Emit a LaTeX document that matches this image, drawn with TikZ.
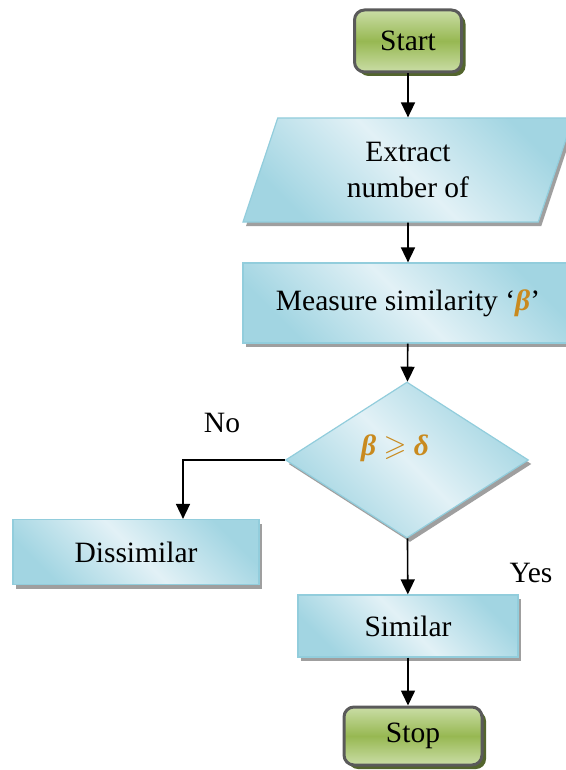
\documentclass[tikz,border=0pt]{standalone}
\usepackage{fontspec}
\setmainfont{Liberation Serif}
\usepackage{amssymb}
\usetikzlibrary{arrows.meta,shapes.geometric,shadows}
\definecolor{flowblue}{HTML}{92CDDC}
\definecolor{flowbluedark}{HTML}{A2D5E2}
\definecolor{flowbluelight}{HTML}{E2F1F6}
\definecolor{flowgreen}{HTML}{97B852}
\definecolor{flowgreenlight}{HTML}{CADDA6}
\definecolor{flowedge}{HTML}{5A5A5A}
\definecolor{betacol}{HTML}{C98A1E}
\newcommand{\greekbf}[1]{{\color{betacol}\bfseries\itshape #1}}

\begin{document}
\begin{tikzpicture}[x=1pt, y=-1pt, >={Triangle[width=14pt,length=15pt]}, line width=1.6pt,
    every node/.style={font=\fontsize{29.5}{36}\selectfont},
    terminal/.style={draw=flowedge, line width=3pt, rounded corners=10pt, inner sep=0pt,
        top color=flowgreenlight, bottom color=flowgreenlight, middle color=flowgreen,
        drop shadow={shadow xshift=4pt, shadow yshift=-4pt, fill=flowgreen!55!black, opacity=1}},
    process/.style={draw=flowblue, line width=1.2pt, inner sep=0pt,
        top color=flowbluedark, bottom color=flowbluedark, middle color=flowbluelight, shading angle=-45,
        drop shadow={shadow xshift=3pt, shadow yshift=-4pt, fill=gray!75, opacity=1}}]
    \useasboundingbox (0,0) rectangle (565,770);

    \node[terminal, minimum width=107pt, minimum height=62pt] (start) at (408,41) {Start};
    \node[process, trapezium, trapezium left angle=58, trapezium right angle=122, trapezium stretches body,
        minimum width=330pt, minimum height=104pt, align=center] (extract) at (408,170) {Extract\\number of};
    \node[process, minimum width=330pt, minimum height=80pt] (measure) at (408,303)
        {Measure similarity ‘\greekbf{β}’};
    \node[process, diamond, minimum width=243pt, minimum height=156pt, text depth=30pt] (decision) at (407,460)
        {\greekbf{β} {\color{betacol}$\geqslant$} \greekbf{δ}\hspace*{24pt}};
    \node[process, minimum width=246pt, minimum height=65pt] (dissim) at (136,552) {Dissimilar};
    \node[process, minimum width=220pt, minimum height=62pt] (similar) at (408,626) {Similar};
    \node[terminal, minimum width=138pt, minimum height=58pt] (stop) at (413,736) {Stop};

    \node (no) at (222,423) {No};
    \node (yes) at (531,573) {Yes};

    \draw[->] (start) -- (extract);
    \draw[->] (extract) -- (measure);
    \draw[->] (measure) -- (decision);
    \draw[->] (decision.west) -| ([xshift=47pt]dissim.north);
    \draw[->] (decision) -- (similar);
    \draw[->] (similar.south) -- (similar.south |- stop.north);
\end{tikzpicture}
\end{document}
